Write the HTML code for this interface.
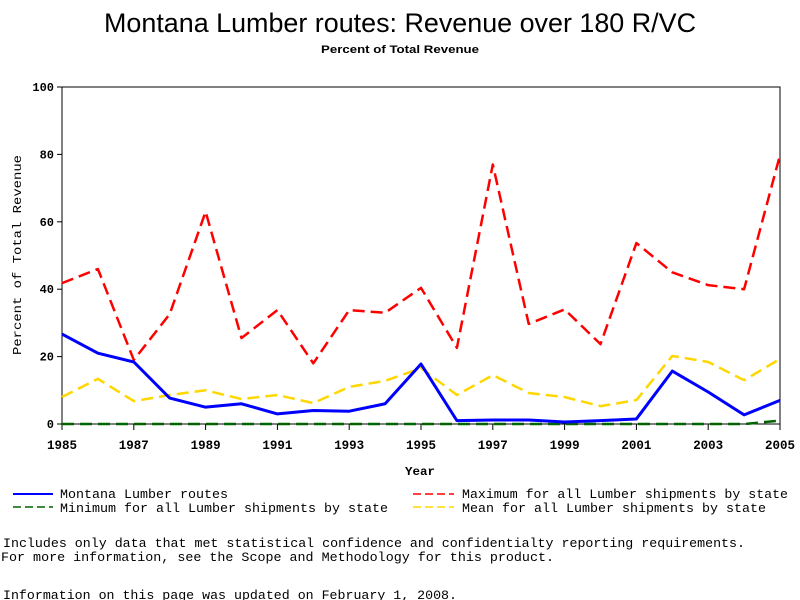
<!DOCTYPE html>
<html><head><meta charset="utf-8"><style>
body{margin:0;background:#fff;}
svg{display:block;}
text{font-family:"Liberation Mono",monospace;}
</style></head><body>
<svg id="chart" width="800" height="600" xmlns="http://www.w3.org/2000/svg">
<text x="400" y="32" text-anchor="middle" font-family="Liberation Sans" font-size="27" textLength="592" lengthAdjust="spacingAndGlyphs" style="font-family:'Liberation Sans',sans-serif">Montana Lumber routes: Revenue over 180 R/VC</text>
<text x="400" y="53" text-anchor="middle" font-size="11" font-weight="bold" textLength="158" lengthAdjust="spacingAndGlyphs" style="font-family:'Liberation Sans',sans-serif">Percent of Total Revenue</text>
<rect x="62" y="87" width="718" height="337" fill="none" stroke="#000" stroke-width="1"/>
<g id="yticks"></g><g id="xticks"></g><g id="series"></g>
<text transform="translate(21,255) rotate(-90)" text-anchor="middle" font-size="12" textLength="200" lengthAdjust="spacingAndGlyphs">Percent of Total Revenue</text>
<text x="420" y="475" text-anchor="middle" font-size="12" font-weight="bold" textLength="30" lengthAdjust="spacingAndGlyphs">Year</text>
<g font-size="13">
<g><line x1="13" y1="494" x2="53" y2="494" stroke="#0000ff" stroke-width="2"/><text x="60" y="498" textLength="168" lengthAdjust="spacingAndGlyphs">Montana Lumber routes</text></g>
<g><line x1="13" y1="507" x2="53" y2="507" stroke="#006400" stroke-width="1.5" stroke-dasharray="8,4"/><text x="60" y="512" textLength="328" lengthAdjust="spacingAndGlyphs">Minimum for all Lumber shipments by state</text></g>
<g><line x1="413" y1="494" x2="454" y2="494" stroke="#ff0000" stroke-width="1.5" stroke-dasharray="8,4"/><text x="462" y="498" textLength="326" lengthAdjust="spacingAndGlyphs">Maximum for all Lumber shipments by state</text></g>
<g><line x1="413" y1="507" x2="454" y2="507" stroke="#ffd700" stroke-width="1.5" stroke-dasharray="8,4"/><text x="462" y="512" textLength="304" lengthAdjust="spacingAndGlyphs">Mean for all Lumber shipments by state</text></g>
</g>
<text x="3" y="547" font-size="13" textLength="742" lengthAdjust="spacingAndGlyphs">Includes only data that met statistical confidence and confidentialty reporting requirements.</text>
<text x="1" y="561" font-size="13" textLength="553" lengthAdjust="spacingAndGlyphs">For more information, see the Scope and Methodology for this product.</text>
<text x="3" y="599" font-size="13" textLength="454" lengthAdjust="spacingAndGlyphs">Information on this page was updated on February 1, 2008.</text>
</svg>
<script>
const years=[1985,1986,1987,1988,1989,1990,1991,1992,1993,1994,1995,1996,1997,1998,1999,2000,2001,2002,2003,2004,2005];
const montana=[26.7,21,18.4,7.7,5,6,3,4,3.8,6,17.8,1,1.2,1.2,0.6,1,1.5,15.7,9.5,2.7,7];
const maximum=[41.8,46,19,32.6,63,25.5,33.8,18,33.8,33,40.4,22.6,77,29.7,34,23.7,53.7,45,41.2,40,79.8];
const mean=[8,13.4,6.8,8.6,10,7.4,8.6,6.2,11,12.8,16.6,8.6,14.5,9.2,8,5.3,7.1,20.2,18.4,13,19.3];
const minimum=[0,0,0,0,0,0,0,0,0,0,0,0,0,0,0,0,0,0,0,0,1];
const yTicks=[0,20,40,60,80,100];
const xTickLabels=[1985,1987,1989,1991,1993,1995,1997,1999,2001,2003,2005];
const NS="http://www.w3.org/2000/svg";
function X(v){return 62+(v-1985)*(718/20);}
function Y(v){return 424-v*3.37;}
function mk(tag,attrs,parent){const e=document.createElementNS(NS,tag);for(const k in attrs)e.setAttribute(k,attrs[k]);parent.appendChild(e);return e;}
const yg=document.getElementById('yticks');
yTicks.forEach(t=>{
 const l=mk('line',{x1:57,x2:62,y1:Y(t),y2:Y(t),stroke:'#000'},yg);
 
 
 const tx=mk('text',{x:54,y:Y(t)+4,'text-anchor':'end','font-size':12,'font-weight':'bold'},yg);
 tx.textContent=t;
 
 
});
const xg=document.getElementById('xticks');
xTickLabels.forEach(t=>{
 const l=mk('line',{x1:X(t),x2:X(t),y1:424,y2:430,stroke:'#000'},xg);
 
 
 const tx=mk('text',{x:X(t),y:449,'text-anchor':'middle','font-size':13,'font-weight':'bold',textLength:30,lengthAdjust:'spacingAndGlyphs'},xg);
 tx.textContent=t;
 
 
});
const sg=document.getElementById('series');
function draw(vals,color,dash,w,name){
 const pts=vals.map((v,i)=>X(years[i])+','+Y(v)).join(' ');
 const p=mk('polyline',{points:pts,fill:'none',stroke:color,'stroke-width':w,'stroke-linejoin':'round'},sg);
 if(dash)p.setAttribute('stroke-dasharray',dash);
 
 
}
draw(maximum,'#ff0000','12,6',2.5,'series-maximum');
draw(mean,'#ffd700','12,6',2.5,'series-mean');
draw(minimum,'#006400','12,6',2.5,'series-minimum');
draw(montana,'#0000ff',null,3,'series-montana');
</script>
</body></html>
